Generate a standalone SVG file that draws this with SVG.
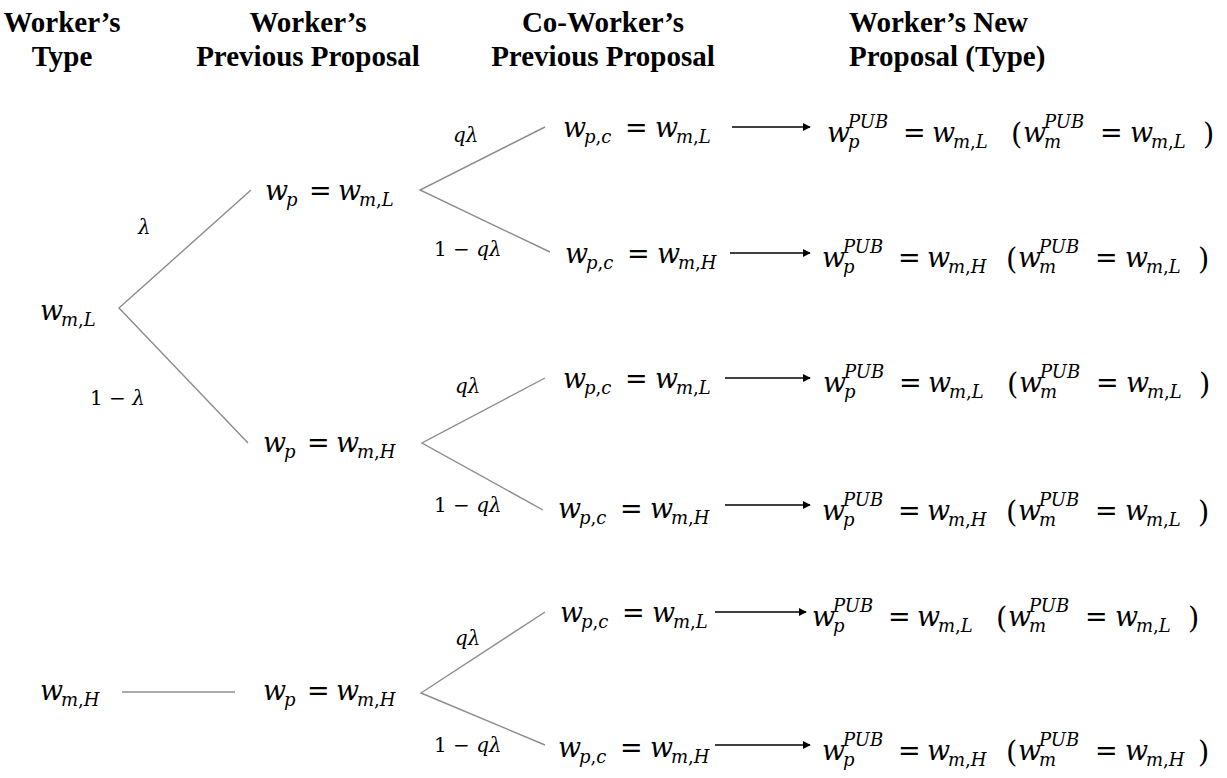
<svg xmlns="http://www.w3.org/2000/svg" width="1227" height="778" viewBox="0 0 1227 778">
<defs>
<style>
.h{font-family:"Liberation Serif",serif;font-weight:bold;font-size:29px;fill:#000;text-anchor:middle}
.m{font-family:"DejaVu Serif",serif;font-size:27px;fill:#000}
.i{font-style:italic}
.s{font-size:18px}
.par{font-size:29px}
.lb{font-family:"DejaVu Serif",serif;font-size:20px;fill:#000}
.br{stroke:#8c8c8c;stroke-width:1.4;fill:none}
.ar{stroke:#000;stroke-width:1.3;fill:none;marker-end:url(#ah)}
</style>
<marker id="ah" viewBox="0 0 10 10" refX="9" refY="5" markerWidth="8" markerHeight="8" markerUnits="userSpaceOnUse" orient="auto">
<path d="M0,0 L10,5 L0,10 z" fill="#000"/>
</marker>
</defs>
<rect width="1227" height="778" fill="#fff"/>

<g id="headers">
<text class="h" x="62" y="32">Worker’s</text>
<text class="h" x="62" y="66">Type</text>
<text class="h" x="308" y="32">Worker’s</text>
<text class="h" x="308" y="66">Previous Proposal</text>
<text class="h" x="603" y="32">Co-Worker’s</text>
<text class="h" x="603" y="66">Previous Proposal</text>
<text class="h" x="849" y="32" style="text-anchor:start">Worker’s New</text>
<text class="h" x="849" y="66" style="text-anchor:start">Proposal (Type)</text>
</g>

<g id="connectors">
<path class="br" d="M251,190 L119,308 L248,443"/>
<path class="br" d="M122,692 L235,692"/>
<path class="br" d="M545,127 L420,190 L550,252"/>
<path class="br" d="M545,378 L422,443 L543,510"/>
<path class="br" d="M545,612 L421,693 L545,745"/>
<line class="ar" x1="732" y1="127" x2="810" y2="127"/>
<line class="ar" x1="730" y1="253" x2="810" y2="253"/>
<line class="ar" x1="725" y1="378" x2="810" y2="378"/>
<line class="ar" x1="725" y1="505" x2="810" y2="505"/>
<line class="ar" x1="715" y1="612" x2="806" y2="612"/>
<line class="ar" x1="715" y1="745" x2="810" y2="745"/>
</g>

<g id="labels">
<text class="lb i" x="138" y="234">λ</text>
<text class="lb" x="90" y="405">1 − <tspan class="i">λ</tspan></text>
<text class="lb i" x="453" y="142">qλ</text>
<text class="lb" x="434" y="256">1 − <tspan class="i">qλ</tspan></text>
<text class="lb i" x="455" y="393">qλ</text>
<text class="lb" x="434" y="512">1 − <tspan class="i">qλ</tspan></text>
<text class="lb i" x="455" y="645">qλ</text>
<text class="lb" x="434" y="752">1 − <tspan class="i">qλ</tspan></text>
</g>

<g id="node-root-L" transform="translate(40,320)">
<text class="m"><tspan class="i" x="0" y="0">w</tspan><tspan class="i s" x="21" y="6">m</tspan><tspan class="s">,</tspan><tspan class="i s">L</tspan></text>
</g>
<g id="node-root-H" transform="translate(40,700)">
<text class="m"><tspan class="i" x="0" y="0">w</tspan><tspan class="i s" x="21" y="6">m</tspan><tspan class="s">,</tspan><tspan class="i s">H</tspan></text>
</g>

<g id="node-prev-L" transform="translate(265,200)">
<text class="m"><tspan class="i" x="0" y="0">w</tspan><tspan class="i s" x="21" y="6">p</tspan><tspan x="44" y="0">=</tspan><tspan class="i" x="73" y="0">w</tspan><tspan class="i s" x="94" y="6">m</tspan><tspan class="s">,</tspan><tspan class="i s">L</tspan></text>
</g>
<g id="node-prev-H1" transform="translate(263,452)">
<text class="m"><tspan class="i" x="0" y="0">w</tspan><tspan class="i s" x="21" y="6">p</tspan><tspan x="44" y="0">=</tspan><tspan class="i" x="73" y="0">w</tspan><tspan class="i s" x="94" y="6">m</tspan><tspan class="s">,</tspan><tspan class="i s">H</tspan></text>
</g>
<g id="node-prev-H2" transform="translate(263,700)">
<text class="m"><tspan class="i" x="0" y="0">w</tspan><tspan class="i s" x="21" y="6">p</tspan><tspan x="44" y="0">=</tspan><tspan class="i" x="73" y="0">w</tspan><tspan class="i s" x="94" y="6">m</tspan><tspan class="s">,</tspan><tspan class="i s">H</tspan></text>
</g>

<g id="node-co-1" transform="translate(563,137)">
<text class="m"><tspan class="i" x="0" y="0">w</tspan><tspan class="i s" x="21" y="6">p</tspan><tspan class="s">,</tspan><tspan class="i s">c</tspan><tspan x="62" y="0">=</tspan><tspan class="i" x="92" y="0">w</tspan><tspan class="i s" x="113" y="6">m</tspan><tspan class="s">,</tspan><tspan class="i s">L</tspan></text>
</g>
<g id="node-co-2" transform="translate(565,263)">
<text class="m"><tspan class="i" x="0" y="0">w</tspan><tspan class="i s" x="21" y="6">p</tspan><tspan class="s">,</tspan><tspan class="i s">c</tspan><tspan x="62" y="0">=</tspan><tspan class="i" x="92" y="0">w</tspan><tspan class="i s" x="113" y="6">m</tspan><tspan class="s">,</tspan><tspan class="i s">H</tspan></text>
</g>
<g id="node-co-3" transform="translate(563,388)">
<text class="m"><tspan class="i" x="0" y="0">w</tspan><tspan class="i s" x="21" y="6">p</tspan><tspan class="s">,</tspan><tspan class="i s">c</tspan><tspan x="62" y="0">=</tspan><tspan class="i" x="92" y="0">w</tspan><tspan class="i s" x="113" y="6">m</tspan><tspan class="s">,</tspan><tspan class="i s">L</tspan></text>
</g>
<g id="node-co-4" transform="translate(558,518)">
<text class="m"><tspan class="i" x="0" y="0">w</tspan><tspan class="i s" x="21" y="6">p</tspan><tspan class="s">,</tspan><tspan class="i s">c</tspan><tspan x="62" y="0">=</tspan><tspan class="i" x="92" y="0">w</tspan><tspan class="i s" x="113" y="6">m</tspan><tspan class="s">,</tspan><tspan class="i s">H</tspan></text>
</g>
<g id="node-co-5" transform="translate(560,622)">
<text class="m"><tspan class="i" x="0" y="0">w</tspan><tspan class="i s" x="21" y="6">p</tspan><tspan class="s">,</tspan><tspan class="i s">c</tspan><tspan x="62" y="0">=</tspan><tspan class="i" x="92" y="0">w</tspan><tspan class="i s" x="113" y="6">m</tspan><tspan class="s">,</tspan><tspan class="i s">L</tspan></text>
</g>
<g id="node-co-6" transform="translate(558,757)">
<text class="m"><tspan class="i" x="0" y="0">w</tspan><tspan class="i s" x="21" y="6">p</tspan><tspan class="s">,</tspan><tspan class="i s">c</tspan><tspan x="62" y="0">=</tspan><tspan class="i" x="92" y="0">w</tspan><tspan class="i s" x="113" y="6">m</tspan><tspan class="s">,</tspan><tspan class="i s">H</tspan></text>
</g>

<g id="node-new-1" transform="translate(827,142)">
<text class="m"><tspan class="i" x="0" y="0">w</tspan><tspan class="i s" x="21" y="-14">PUB</tspan><tspan class="i s" x="21" y="6">p</tspan><tspan x="76" y="0">=</tspan><tspan class="i" x="105" y="0">w</tspan><tspan class="i s" x="126" y="6">m</tspan><tspan class="s">,</tspan><tspan class="i s">L</tspan><tspan class="par" x="184" y="2">(</tspan><tspan class="i" x="196" y="0">w</tspan><tspan class="i s" x="217" y="-14">PUB</tspan><tspan class="i s" x="217" y="6">m</tspan><tspan x="273" y="0">=</tspan><tspan class="i" x="303" y="0">w</tspan><tspan class="i s" x="324" y="6">m</tspan><tspan class="s">,</tspan><tspan class="i s">L</tspan><tspan class="par" x="376" y="2">)</tspan></text>
</g>
<g id="node-new-2" transform="translate(822,267)">
<text class="m"><tspan class="i" x="0" y="0">w</tspan><tspan class="i s" x="21" y="-14">PUB</tspan><tspan class="i s" x="21" y="6">p</tspan><tspan x="76" y="0">=</tspan><tspan class="i" x="105" y="0">w</tspan><tspan class="i s" x="126" y="6">m</tspan><tspan class="s">,</tspan><tspan class="i s">H</tspan><tspan class="par" x="184" y="2">(</tspan><tspan class="i" x="196" y="0">w</tspan><tspan class="i s" x="217" y="-14">PUB</tspan><tspan class="i s" x="217" y="6">m</tspan><tspan x="273" y="0">=</tspan><tspan class="i" x="303" y="0">w</tspan><tspan class="i s" x="324" y="6">m</tspan><tspan class="s">,</tspan><tspan class="i s">L</tspan><tspan class="par" x="376" y="2">)</tspan></text>
</g>
<g id="node-new-3" transform="translate(823,392)">
<text class="m"><tspan class="i" x="0" y="0">w</tspan><tspan class="i s" x="21" y="-14">PUB</tspan><tspan class="i s" x="21" y="6">p</tspan><tspan x="76" y="0">=</tspan><tspan class="i" x="105" y="0">w</tspan><tspan class="i s" x="126" y="6">m</tspan><tspan class="s">,</tspan><tspan class="i s">L</tspan><tspan class="par" x="184" y="2">(</tspan><tspan class="i" x="196" y="0">w</tspan><tspan class="i s" x="217" y="-14">PUB</tspan><tspan class="i s" x="217" y="6">m</tspan><tspan x="273" y="0">=</tspan><tspan class="i" x="303" y="0">w</tspan><tspan class="i s" x="324" y="6">m</tspan><tspan class="s">,</tspan><tspan class="i s">L</tspan><tspan class="par" x="376" y="2">)</tspan></text>
</g>
<g id="node-new-4" transform="translate(822,520)">
<text class="m"><tspan class="i" x="0" y="0">w</tspan><tspan class="i s" x="21" y="-14">PUB</tspan><tspan class="i s" x="21" y="6">p</tspan><tspan x="76" y="0">=</tspan><tspan class="i" x="105" y="0">w</tspan><tspan class="i s" x="126" y="6">m</tspan><tspan class="s">,</tspan><tspan class="i s">H</tspan><tspan class="par" x="184" y="2">(</tspan><tspan class="i" x="196" y="0">w</tspan><tspan class="i s" x="217" y="-14">PUB</tspan><tspan class="i s" x="217" y="6">m</tspan><tspan x="273" y="0">=</tspan><tspan class="i" x="303" y="0">w</tspan><tspan class="i s" x="324" y="6">m</tspan><tspan class="s">,</tspan><tspan class="i s">L</tspan><tspan class="par" x="376" y="2">)</tspan></text>
</g>
<g id="node-new-5" transform="translate(812,626)">
<text class="m"><tspan class="i" x="0" y="0">w</tspan><tspan class="i s" x="21" y="-14">PUB</tspan><tspan class="i s" x="21" y="6">p</tspan><tspan x="76" y="0">=</tspan><tspan class="i" x="105" y="0">w</tspan><tspan class="i s" x="126" y="6">m</tspan><tspan class="s">,</tspan><tspan class="i s">L</tspan><tspan class="par" x="184" y="2">(</tspan><tspan class="i" x="196" y="0">w</tspan><tspan class="i s" x="217" y="-14">PUB</tspan><tspan class="i s" x="217" y="6">m</tspan><tspan x="273" y="0">=</tspan><tspan class="i" x="303" y="0">w</tspan><tspan class="i s" x="324" y="6">m</tspan><tspan class="s">,</tspan><tspan class="i s">L</tspan><tspan class="par" x="376" y="2">)</tspan></text>
</g>
<g id="node-new-6" transform="translate(822,760)">
<text class="m"><tspan class="i" x="0" y="0">w</tspan><tspan class="i s" x="21" y="-14">PUB</tspan><tspan class="i s" x="21" y="6">p</tspan><tspan x="76" y="0">=</tspan><tspan class="i" x="105" y="0">w</tspan><tspan class="i s" x="126" y="6">m</tspan><tspan class="s">,</tspan><tspan class="i s">H</tspan><tspan class="par" x="184" y="2">(</tspan><tspan class="i" x="196" y="0">w</tspan><tspan class="i s" x="217" y="-14">PUB</tspan><tspan class="i s" x="217" y="6">m</tspan><tspan x="273" y="0">=</tspan><tspan class="i" x="303" y="0">w</tspan><tspan class="i s" x="324" y="6">m</tspan><tspan class="s">,</tspan><tspan class="i s">H</tspan><tspan class="par" x="376" y="2">)</tspan></text>
</g>
</svg>
